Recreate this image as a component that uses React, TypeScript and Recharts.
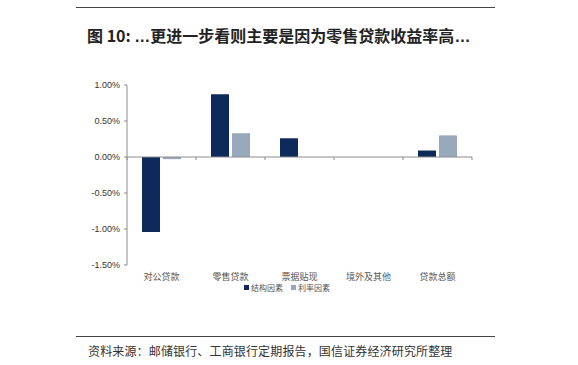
import React from 'react'
import { BarChart, Bar, XAxis, YAxis, ReferenceLine } from 'recharts'

const categories = ['对公贷款', '零售贷款', '票据贴现', '境外及其他', '贷款总额']
const structural = [-0.0104, 0.0087, 0.0026, 0, 0.0009]
const rate = [-0.0003, 0.0033, 0, 0, 0.003]
const yTicks = [-0.015, -0.01, -0.005, 0, 0.005, 0.01]

const DARK = '#0e2a5a'
const LIGHT = '#97a8ba'

const data = categories.map((name, i) => ({ name, structural: structural[i], rate: rate[i] }))

const fmt = (v: number) => `${(v * 100).toFixed(2)}%`

// zero line with small ticks at the category boundaries
const ZeroLine = (props: any) => {
  const { x1, y1, x2, y2 } = props
  const step = (x2 - x1) / categories.length
  const ticks = []
  for (let i = 0; i <= categories.length; i++) {
    const x = x1 + step * i
    ticks.push(<line key={i} x1={x} x2={x} y1={y1} y2={y1 + 3} stroke="#8c8c8c" strokeWidth={1} />)
  }
  return (
    <g>
      <line x1={x1} y1={y1} x2={x2} y2={y2} stroke="#8c8c8c" strokeWidth={1} />
      {ticks}
    </g>
  )
}

const dots = <span style={{ fontFamily: '"Liberation Sans", Arial, sans-serif' }}>…</span>

export default function App() {
  return (
    <div style={{ position: 'relative', width: 578, height: 365, background: '#fff', overflow: 'hidden' }}>
      <style>{'body{margin:0}'}</style>
      <div style={{ position: 'absolute', left: 76, top: 7, width: 419, height: 1, background: '#444' }} />
      <div style={{
        position: 'absolute', left: 87, top: 24, fontFamily: '"Noto Sans CJK SC", sans-serif',
        fontWeight: 700, fontSize: 16, color: '#222', whiteSpace: 'nowrap', lineHeight: '22px',
      }}>
        图 10: {dots}更进一步看则主要是因为零售贷款收益率高{dots}
      </div>

      <div style={{ position: 'absolute', left: 0, top: 0 }}>
        <BarChart
          width={578}
          height={365}
          data={data}
          margin={{ top: 85, right: 106, left: 0, bottom: 70 }}
          barGap={3}
          barCategoryGap={15}
        >
          <YAxis
            width={127}
            domain={[-0.015, 0.01]}
            ticks={yTicks}
            tickFormatter={fmt}
            interval={0}
            axisLine={{ stroke: '#8c8c8c' }}
            tickLine={{ stroke: '#8c8c8c' }}
            tickSize={3}
            tickMargin={4}
            tick={{ fontSize: 9, fill: '#333', fontFamily: '"Liberation Sans", Arial, sans-serif' }}
          />
          <XAxis
            dataKey="name"
            height={30}
            axisLine={false}
            tickLine={false}
            tickMargin={3}
            tick={{ fontSize: 9, fill: '#555', fontFamily: '"Noto Sans CJK SC", sans-serif' }}
            interval={0}
          />
          <ReferenceLine y={0} shape={<ZeroLine />} ifOverflow="visible" />
          <Bar dataKey="structural" name="结构因素" fill={DARK} isAnimationActive={false} />
          <Bar dataKey="rate" name="利率因素" fill={LIGHT} isAnimationActive={false} />
        </BarChart>
      </div>

      <div style={{
        position: 'absolute', left: 0, width: 574, top: 283, display: 'flex', justifyContent: 'center', gap: 8,
        fontFamily: '"Noto Sans CJK SC", sans-serif', fontSize: 8, lineHeight: '9px', color: '#555',
      }}>
        <div style={{ display: 'flex', alignItems: 'center', gap: 2 }}>
          <div style={{ width: 5, height: 5, background: DARK }} />
          <span>结构因素</span>
        </div>
        <div style={{ display: 'flex', alignItems: 'center', gap: 2 }}>
          <div style={{ width: 5, height: 5, background: LIGHT }} />
          <span>利率因素</span>
        </div>
      </div>

      <div style={{ position: 'absolute', left: 76, top: 336, width: 419, height: 1, background: '#444' }} />
      <div style={{
        position: 'absolute', left: 88, top: 343, fontFamily: '"Noto Sans CJK SC", sans-serif',
        fontSize: 12, letterSpacing: 0.15, color: '#333', whiteSpace: 'nowrap', lineHeight: '16px',
      }}>
        资料来源：邮储银行、工商银行定期报告，国信证券经济研究所整理
      </div>
    </div>
  )
}
